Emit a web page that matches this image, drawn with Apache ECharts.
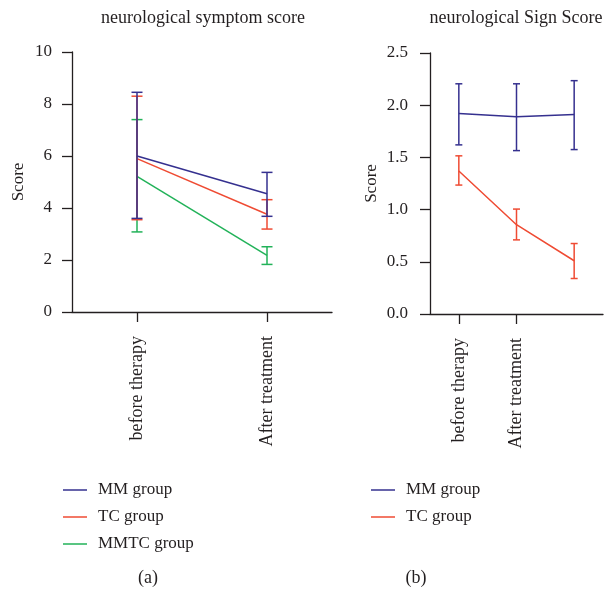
<!DOCTYPE html>
<html>
<head>
<meta charset="utf-8">
<script src="https://cdn.jsdelivr.net/npm/echarts@6/dist/echarts.min.js"></script>
<style>
  html, body { margin: 0; padding: 0; background: #fff; }
  #main { width: 606px; height: 590px; }
</style>
</head>
<body>
<div id="main"></div>
<script>
// panel (a) - neurological symptom score
var catsA = ['before therapy', 'After treatment'];
var mmA = [6.0, 4.55];
var mmALow = [3.6, 3.68];
var mmAHigh = [8.45, 5.37];
var tcA = [5.9, 3.76];
var tcALow = [3.55, 3.19];
var tcAHigh = [8.3, 4.32];
var mmtcA = [5.22, 2.18];
var mmtcALow = [3.08, 1.83];
var mmtcAHigh = [7.4, 2.51];

// panel (b) - neurological sign score
var catsB = ['before therapy', 'After treatment', ''];
var mmB = [1.92, 1.89, 1.91];
var mmBLow = [1.62, 1.565, 1.575];
var mmBHigh = [2.205, 2.205, 2.235];
var tcB = [1.37, 0.855, 0.51];
var tcBLow = [1.235, 0.71, 0.34];
var tcBHigh = [1.515, 1.005, 0.675];

var yTicksA = [0, 2, 4, 6, 8, 10];
var yTicksB = [0, 0.5, 1.0, 1.5, 2.0, 2.5];

var C_MM = '#35308f';
var C_TC = '#ef4b33';
var C_MMTC = '#22b259';
var INK = '#231f20';
var FONT = 'Liberation Serif';

function errData(low, high) {
	return low.map(function (v, i) { return [i, v, high[i]]; });
}

function errBar(cap) {
	return function (params, api) {
		var x = api.value(0);
		var lo = api.coord([x, api.value(1)]);
		var hi = api.coord([x, api.value(2)]);
		var st = { stroke: api.visual('color'), lineWidth: 1.5, fill: null };
		return {
			type: 'group',
			children: [
				{ type: 'line', shape: { x1: lo[0], y1: lo[1], x2: hi[0], y2: hi[1] }, style: st },
				{ type: 'line', shape: { x1: hi[0] - cap, y1: hi[1], x2: hi[0] + cap, y2: hi[1] }, style: st },
				{ type: 'line', shape: { x1: lo[0] - cap, y1: lo[1], x2: lo[0] + cap, y2: lo[1] }, style: st }
			]
		};
	};
}

function lineSeries(name, idx, data, color, z) {
	return {
		name: name, type: 'line', xAxisIndex: idx, yAxisIndex: idx,
		data: data, symbol: 'none', z: z,
		lineStyle: { color: color, width: 1.5 },
		itemStyle: { color: color },
		emphasis: { disabled: true }
	};
}

function barSeries(name, idx, low, high, color, cap, z) {
	return {
		name: name, type: 'custom', xAxisIndex: idx, yAxisIndex: idx,
		data: errData(low, high), renderItem: errBar(cap), z: z,
		itemStyle: { color: color },
		encode: { x: 0, y: [1, 2] }
	};
}

var axisLine = { lineStyle: { color: INK, width: 1.3 } };
var axisTick = { show: true, length: 10, lineStyle: { color: INK, width: 1.3 } };
var labelStyle = { color: INK, fontFamily: FONT, fontSize: 17 };

function xAxis(idx, cats, tickInterval) {
	return {
		type: 'category', gridIndex: idx, data: cats, boundaryGap: true,
		axisLine: axisLine,
		axisTick: Object.assign({ alignWithLabel: true, interval: tickInterval }, axisTick),
		axisLabel: Object.assign({}, labelStyle, { rotate: 90, margin: 24, interval: 0, fontSize: 18 }),
		splitLine: { show: false }
	};
}

function yAxis(idx, ticks, margin, gap, fmt) {
	return {
		type: 'value', gridIndex: idx,
		min: ticks[0], max: ticks[ticks.length - 1], interval: ticks[1] - ticks[0],
		name: 'Score', nameLocation: 'middle', nameGap: gap,
		nameTextStyle: labelStyle,
		axisLine: Object.assign({ show: true }, axisLine),
		axisTick: axisTick,
		axisLabel: Object.assign({ margin: margin, formatter: fmt }, labelStyle),
		splitLine: { show: false }
	};
}

function legend(names, left) {
	return {
		data: names, orient: 'vertical', left: left, top: 481, padding: 0,
		icon: 'rect', itemWidth: 24, itemHeight: 1.5, itemGap: 9,
		selectedMode: false,
		textStyle: { color: INK, fontFamily: FONT, fontSize: 17, lineHeight: 18, padding: [0, 0, 0, 6] }
	};
}

function caption(text, x, y, size) {
	return {
		text: text, left: x, top: y, textAlign: 'center', padding: 0,
		textStyle: { color: INK, fontFamily: FONT, fontSize: size, fontWeight: 'normal' }
	};
}

var option = {
	animation: false,
	backgroundColor: '#fff',
	title: [
		caption('neurological symptom score', 203, 9, 18),
		caption('neurological Sign Score', 516, 9, 18),
		caption('(a)', 148, 569, 18),
		caption('(b)', 416, 569, 18)
	],
	legend: [
		legend(['MM group', 'TC group', 'MMTC group'], 63),
		legend(['MM group', 'TC group'], 371)
	],
	grid: [
		{ left: 72, top: 52, width: 260, height: 260, outerBoundsMode: 'none' },
		{ left: 430, top: 53, width: 173, height: 261, outerBoundsMode: 'none' }
	],
	xAxis: [
		xAxis(0, catsA, 0),
		xAxis(1, catsB, function (i) { return i < 2; })
	],
	yAxis: [
		yAxis(0, yTicksA, 20, 45, function (v) { return String(v); }),
		yAxis(1, yTicksB, 22, 50, function (v) { return v.toFixed(1); })
	],
	series: [
		lineSeries('MMTC group', 0, mmtcA, C_MMTC, 2),
		barSeries('MMTC group', 0, mmtcALow, mmtcAHigh, C_MMTC, 5.5, 2),
		lineSeries('TC group', 0, tcA, C_TC, 3),
		barSeries('TC group', 0, tcALow, tcAHigh, C_TC, 5.5, 3),
		lineSeries('MM group', 0, mmA, C_MM, 4),
		barSeries('MM group', 0, mmALow, mmAHigh, C_MM, 5.5, 4),
		lineSeries('MM group', 1, mmB, C_MM, 4),
		barSeries('MM group', 1, mmBLow, mmBHigh, C_MM, 3.5, 4),
		lineSeries('TC group', 1, tcB, C_TC, 3),
		barSeries('TC group', 1, tcBLow, tcBHigh, C_TC, 3.5, 3)
	]
};

var myChart = echarts.init(document.getElementById('main'), null, { renderer: 'canvas' });
myChart.setOption(option);
</script>
</body>
</html>
